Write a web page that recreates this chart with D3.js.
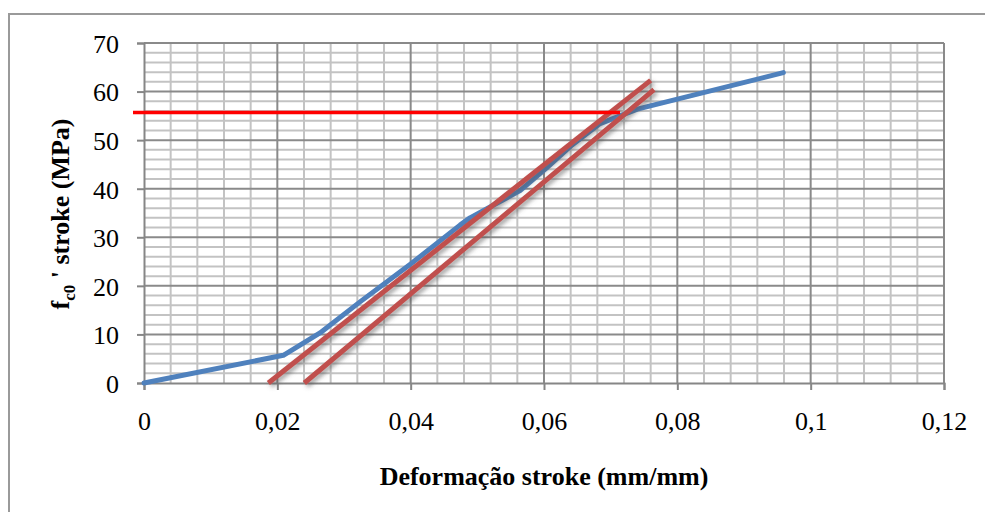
<!DOCTYPE html>
<html>
<head>
<meta charset="utf-8">
<script src="https://cdn.jsdelivr.net/npm/d3@7"></script>
<style>
  html, body { margin: 0; padding: 0; background: #ffffff; }
  svg { display: block; }
  text { font-family: "Liberation Serif", "Times New Roman", serif; fill: #000; }
</style>
</head>
<body>
<svg id="chart" width="985" height="512"></svg>
<script>
// ---- data ----
const xTicks = [0, 0.02, 0.04, 0.06, 0.08, 0.1, 0.12];
const xTickLabels = ["0", "0,02", "0,04", "0,06", "0,08", "0,1", "0,12"];
const yTicks = [0, 10, 20, 30, 40, 50, 60, 70];
const yTickLabels = ["0", "10", "20", "30", "40", "50", "60", "70"];

const curveX = [0, 0.0209, 0.0264, 0.0324, 0.0400, 0.0474, 0.0489, 0.0564, 0.0604, 0.0642, 0.0684, 0.0740, 0.0959];
const curveY = [0, 5.7, 10.3, 16.7, 24.5, 32.5, 34.0, 39.6, 44.3, 49.0, 53.4, 56.4, 63.9];

const offsetLine1X = [0.01865, 0.0760];
const offsetLine1Y = [0, 62.3];
const offsetLine2X = [0.02405, 0.0765];
const offsetLine2Y = [0, 60.4];

const strengthX = [-0.00165, 0.0714];
const strengthY = [55.7, 55.7];

const xTitle = "Deformação stroke (mm/mm)";

// ---- drawing ----
const svg = d3.select("#chart");
const x = d3.scaleLinear().domain([0, 0.12]).range([144, 944]);
const y = d3.scaleLinear().domain([0, 70]).range([383, 43]);

const defs = svg.append("defs");
const f = defs.append("filter").attr("id", "shadow")
  .attr("x", "-20%").attr("y", "-20%").attr("width", "140%").attr("height", "140%");
f.append("feDropShadow").attr("dx", 2.5).attr("dy", 2.5).attr("stdDeviation", 2)
  .attr("flood-color", "#555").attr("flood-opacity", 0.55);

// outer chart border
svg.append("rect").attr("x", 9).attr("y", 14).attr("width", 1000).attr("height", 520)
  .attr("fill", "none").attr("stroke", "#9a9a9a").attr("stroke-width", 2);

// minor gridlines
const xMinor = d3.range(0, 0.1201, 0.004).filter(v => Math.abs(v / 0.02 - Math.round(v / 0.02)) > 1e-6);
const yMinor = d3.range(0, 70.01, 2).filter(v => v % 10 !== 0);
const grid = svg.append("g");
grid.selectAll(".vminor").data(xMinor).join("line")
  .attr("x1", d => x(d)).attr("x2", d => x(d)).attr("y1", y(70)).attr("y2", y(0))
  .attr("stroke", "#c3c3c3").attr("stroke-width", 2);
grid.selectAll(".hminor").data(yMinor).join("line")
  .attr("x1", x(0)).attr("x2", x(0.12)).attr("y1", d => y(d)).attr("y2", d => y(d))
  .attr("stroke", "#c3c3c3").attr("stroke-width", 2);
// major gridlines
grid.selectAll(".vmajor").data(xTicks.slice(1)).join("line")
  .attr("x1", d => x(d)).attr("x2", d => x(d)).attr("y1", y(70)).attr("y2", y(0))
  .attr("stroke", "#8a8a8a").attr("stroke-width", 2);
grid.selectAll(".hmajor").data(yTicks.slice(1)).join("line")
  .attr("x1", x(0)).attr("x2", x(0.12)).attr("y1", d => y(d)).attr("y2", d => y(d))
  .attr("stroke", "#8a8a8a").attr("stroke-width", 2);

// axes
const xAxis = d3.axisBottom(x).tickValues(xTicks).tickSize(7).tickPadding(22)
  .tickFormat((d, i) => xTickLabels[i]);
const yAxis = d3.axisLeft(y).tickValues(yTicks).tickSize(7).tickPadding(18)
  .tickFormat((d, i) => yTickLabels[i]);

const gx = svg.append("g").attr("transform", `translate(0,${y(0)})`).call(xAxis);
const gy = svg.append("g").attr("transform", `translate(${x(0)},0)`).call(yAxis);
[gx, gy].forEach(g => {
  g.select(".domain").attr("stroke", "#868686").attr("stroke-width", 2);
  g.selectAll(".tick line").attr("stroke", "#868686").attr("stroke-width", 2);
  g.selectAll(".tick text").attr("font-family", "Liberation Serif, serif")
    .attr("font-size", 26).attr("fill", "#000");
});
gx.selectAll(".tick text").attr("dy", "0.71em");
gy.selectAll(".tick text").attr("dy", "0.36em");

const line = d3.line().x(d => x(d[0])).y(d => y(d[1]));

// blue curve
svg.append("path").datum(curveX.map((v, i) => [v, curveY[i]]))
  .attr("d", line).attr("fill", "none").attr("stroke", "#4F81BD")
  .attr("stroke-width", 5).attr("stroke-linejoin", "round").attr("stroke-linecap", "round");

// offset lines (dark red with shadow)
[[offsetLine1X, offsetLine1Y], [offsetLine2X, offsetLine2Y]].forEach(([xs, ys]) => {
  svg.append("path").datum(xs.map((v, i) => [v, ys[i]]))
    .attr("d", line).attr("fill", "none").attr("stroke", "#C0504D")
    .attr("stroke-width", 5).attr("filter", "url(#shadow)");
});

// strength level (red)
svg.append("path").datum(strengthX.map((v, i) => [v, strengthY[i]]))
  .attr("d", line).attr("fill", "none").attr("stroke", "#FF0000").attr("stroke-width", 3.5);

// titles
svg.append("text").attr("x", 544).attr("y", 485).attr("text-anchor", "middle")
  .attr("font-size", 26).attr("font-weight", "bold").text(xTitle);

const yt = svg.append("text").attr("transform", "translate(69,214) rotate(-90)")
  .attr("text-anchor", "middle").attr("font-size", 26).attr("font-weight", "bold");
yt.append("tspan").text("f");
yt.append("tspan").attr("font-size", 17).attr("dy", 6).text("c0");
yt.append("tspan").attr("dy", -6).text(" ' stroke (MPa)");
</script>
</body>
</html>
